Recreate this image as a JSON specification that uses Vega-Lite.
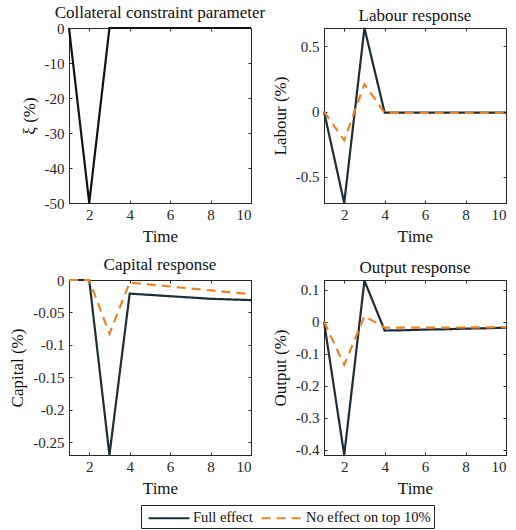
{
  "$schema": "https://vega.github.io/schema/vega-lite/v6.json",
  "padding": {"left": 8, "top": 3, "right": 6, "bottom": 2},
  "datasets": {
    "irf": [
      {"panel": "xi", "t": 1, "value": 0, "series": "Full effect"},
      {"panel": "xi", "t": 2, "value": -50, "series": "Full effect"},
      {"panel": "xi", "t": 3, "value": 0, "series": "Full effect"},
      {"panel": "xi", "t": 4, "value": 0, "series": "Full effect"},
      {"panel": "xi", "t": 5, "value": 0, "series": "Full effect"},
      {"panel": "xi", "t": 6, "value": 0, "series": "Full effect"},
      {"panel": "xi", "t": 7, "value": 0, "series": "Full effect"},
      {"panel": "xi", "t": 8, "value": 0, "series": "Full effect"},
      {"panel": "xi", "t": 9, "value": 0, "series": "Full effect"},
      {"panel": "xi", "t": 10, "value": 0, "series": "Full effect"},

      {"panel": "labour", "t": 1, "value": 0, "series": "Full effect"},
      {"panel": "labour", "t": 2, "value": -0.70, "series": "Full effect"},
      {"panel": "labour", "t": 3, "value": 0.64, "series": "Full effect"},
      {"panel": "labour", "t": 4, "value": -0.008, "series": "Full effect"},
      {"panel": "labour", "t": 5, "value": -0.008, "series": "Full effect"},
      {"panel": "labour", "t": 6, "value": -0.008, "series": "Full effect"},
      {"panel": "labour", "t": 7, "value": -0.008, "series": "Full effect"},
      {"panel": "labour", "t": 8, "value": -0.008, "series": "Full effect"},
      {"panel": "labour", "t": 9, "value": -0.008, "series": "Full effect"},
      {"panel": "labour", "t": 10, "value": -0.008, "series": "Full effect"},
      {"panel": "labour", "t": 1, "value": 0, "series": "No effect on top 10%"},
      {"panel": "labour", "t": 2, "value": -0.22, "series": "No effect on top 10%"},
      {"panel": "labour", "t": 3, "value": 0.21, "series": "No effect on top 10%"},
      {"panel": "labour", "t": 4, "value": -0.01, "series": "No effect on top 10%"},
      {"panel": "labour", "t": 5, "value": -0.01, "series": "No effect on top 10%"},
      {"panel": "labour", "t": 6, "value": -0.01, "series": "No effect on top 10%"},
      {"panel": "labour", "t": 7, "value": -0.01, "series": "No effect on top 10%"},
      {"panel": "labour", "t": 8, "value": -0.01, "series": "No effect on top 10%"},
      {"panel": "labour", "t": 9, "value": -0.01, "series": "No effect on top 10%"},
      {"panel": "labour", "t": 10, "value": -0.01, "series": "No effect on top 10%"},

      {"panel": "capital", "t": 1, "value": 0, "series": "Full effect"},
      {"panel": "capital", "t": 2, "value": 0, "series": "Full effect"},
      {"panel": "capital", "t": 3, "value": -0.27, "series": "Full effect"},
      {"panel": "capital", "t": 4, "value": -0.021, "series": "Full effect"},
      {"panel": "capital", "t": 5, "value": -0.023, "series": "Full effect"},
      {"panel": "capital", "t": 6, "value": -0.025, "series": "Full effect"},
      {"panel": "capital", "t": 7, "value": -0.027, "series": "Full effect"},
      {"panel": "capital", "t": 8, "value": -0.029, "series": "Full effect"},
      {"panel": "capital", "t": 9, "value": -0.030, "series": "Full effect"},
      {"panel": "capital", "t": 10, "value": -0.031, "series": "Full effect"},
      {"panel": "capital", "t": 1, "value": 0, "series": "No effect on top 10%"},
      {"panel": "capital", "t": 2, "value": 0, "series": "No effect on top 10%"},
      {"panel": "capital", "t": 3, "value": -0.083, "series": "No effect on top 10%"},
      {"panel": "capital", "t": 4, "value": -0.004, "series": "No effect on top 10%"},
      {"panel": "capital", "t": 5, "value": -0.007, "series": "No effect on top 10%"},
      {"panel": "capital", "t": 6, "value": -0.010, "series": "No effect on top 10%"},
      {"panel": "capital", "t": 7, "value": -0.013, "series": "No effect on top 10%"},
      {"panel": "capital", "t": 8, "value": -0.016, "series": "No effect on top 10%"},
      {"panel": "capital", "t": 9, "value": -0.019, "series": "No effect on top 10%"},
      {"panel": "capital", "t": 10, "value": -0.022, "series": "No effect on top 10%"},

      {"panel": "output", "t": 1, "value": 0, "series": "Full effect"},
      {"panel": "output", "t": 2, "value": -0.417, "series": "Full effect"},
      {"panel": "output", "t": 3, "value": 0.128, "series": "Full effect"},
      {"panel": "output", "t": 4, "value": -0.028, "series": "Full effect"},
      {"panel": "output", "t": 5, "value": -0.027, "series": "Full effect"},
      {"panel": "output", "t": 6, "value": -0.025, "series": "Full effect"},
      {"panel": "output", "t": 7, "value": -0.024, "series": "Full effect"},
      {"panel": "output", "t": 8, "value": -0.022, "series": "Full effect"},
      {"panel": "output", "t": 9, "value": -0.021, "series": "Full effect"},
      {"panel": "output", "t": 10, "value": -0.019, "series": "Full effect"},
      {"panel": "output", "t": 1, "value": 0, "series": "No effect on top 10%"},
      {"panel": "output", "t": 2, "value": -0.135, "series": "No effect on top 10%"},
      {"panel": "output", "t": 3, "value": 0.017, "series": "No effect on top 10%"},
      {"panel": "output", "t": 4, "value": -0.019, "series": "No effect on top 10%"},
      {"panel": "output", "t": 5, "value": -0.019, "series": "No effect on top 10%"},
      {"panel": "output", "t": 6, "value": -0.019, "series": "No effect on top 10%"},
      {"panel": "output", "t": 7, "value": -0.019, "series": "No effect on top 10%"},
      {"panel": "output", "t": 8, "value": -0.018, "series": "No effect on top 10%"},
      {"panel": "output", "t": 9, "value": -0.018, "series": "No effect on top 10%"},
      {"panel": "output", "t": 10, "value": -0.017, "series": "No effect on top 10%"}
    ]
  },
  "data": {"name": "irf"},
  "columns": 2,
  "spacing": {"row": 77, "column": 73},
  "bounds": "flush",
  "concat": [
    {
      "width": 182, "height": 175,
      "title": "Collateral constraint parameter",
      "transform": [{"filter": "datum.panel === 'xi'"}],
      "layer": [
        {
          "mark": {"type": "line", "strokeWidth": 2.2},
          "encoding": {
            "x": {"field": "t", "type": "quantitative", "scale": {"domain": [1, 10], "nice": false}, "axis": {"title": "Time", "values": [2, 4, 6, 8, 10]}},
            "y": {"field": "value", "type": "quantitative", "scale": {"domain": [-50, 0], "nice": false, "zero": false}, "axis": {"title": "ξ (%)", "values": [-50, -40, -30, -20, -10, 0]}},
            "color": {"field": "series", "type": "nominal", "scale": {"domain": ["Full effect", "No effect on top 10%"], "range": ["#111111", "#ec8425"]}, "legend": null},
            "strokeDash": {"field": "series", "type": "nominal", "scale": {"domain": ["Full effect", "No effect on top 10%"], "range": [[1, 0], [9, 6]]}, "legend": null}
          }
        },
        {
          "mark": {"type": "line", "strokeOpacity": 0},
          "encoding": {
            "x": {"field": "t", "type": "quantitative", "axis": {"orient": "top", "title": null, "labels": false, "values": [2, 4, 6, 8, 10], "domain": false}},
            "y": {"field": "value", "type": "quantitative", "axis": {"orient": "right", "title": null, "labels": false, "values": [-50, -40, -30, -20, -10, 0], "domain": false}}
          }
        }
      ],
      "resolve": {"axis": {"x": "independent", "y": "independent"}}
    },
    {
      "width": 182, "height": 175,
      "title": "Labour response",
      "transform": [{"filter": "datum.panel === 'labour'"}],
      "layer": [
        {
          "mark": {"type": "line", "strokeWidth": 2.2},
          "encoding": {
            "x": {"field": "t", "type": "quantitative", "scale": {"domain": [1, 10], "nice": false}, "axis": {"title": "Time", "values": [2, 4, 6, 8, 10]}},
            "y": {"field": "value", "type": "quantitative", "scale": {"domain": [-0.7, 0.64], "nice": false, "zero": false}, "axis": {"title": "Labour (%)", "values": [-0.5, 0, 0.5]}},
            "color": {"field": "series", "type": "nominal", "scale": {"domain": ["Full effect", "No effect on top 10%"], "range": ["#1d2d33", "#ec8425"]}, "title": null, "legend": null},
            "strokeDash": {"field": "series", "type": "nominal", "scale": {"domain": ["Full effect", "No effect on top 10%"], "range": [[1, 0], [9, 6]]}, "title": null, "legend": null}
          }
        },
        {
          "mark": {"type": "line", "strokeOpacity": 0},
          "encoding": {
            "x": {"field": "t", "type": "quantitative", "axis": {"orient": "top", "title": null, "labels": false, "values": [2, 4, 6, 8, 10], "domain": false}},
            "y": {"field": "value", "type": "quantitative", "axis": {"orient": "right", "title": null, "labels": false, "values": [-0.5, 0, 0.5], "domain": false}}
          }
        }
      ],
      "resolve": {"axis": {"x": "independent", "y": "independent"}}
    },
    {
      "width": 182, "height": 175,
      "title": "Capital response",
      "transform": [{"filter": "datum.panel === 'capital'"}],
      "layer": [
        {
          "mark": {"type": "line", "strokeWidth": 2.2},
          "encoding": {
            "x": {"field": "t", "type": "quantitative", "scale": {"domain": [1, 10], "nice": false}, "axis": {"title": "Time", "values": [2, 4, 6, 8, 10]}},
            "y": {"field": "value", "type": "quantitative", "scale": {"domain": [-0.27, 0], "nice": false, "zero": false}, "axis": {"title": "Capital (%)", "values": [-0.25, -0.2, -0.15, -0.1, -0.05, 0]}},
            "color": {"field": "series", "type": "nominal", "scale": {"domain": ["Full effect", "No effect on top 10%"], "range": ["#1d2d33", "#ec8425"]}, "title": null, "legend": null},
            "strokeDash": {"field": "series", "type": "nominal", "scale": {"domain": ["Full effect", "No effect on top 10%"], "range": [[1, 0], [9, 6]]}, "title": null, "legend": null}
          }
        },
        {
          "mark": {"type": "line", "strokeOpacity": 0},
          "encoding": {
            "x": {"field": "t", "type": "quantitative", "axis": {"orient": "top", "title": null, "labels": false, "values": [2, 4, 6, 8, 10], "domain": false}},
            "y": {"field": "value", "type": "quantitative", "axis": {"orient": "right", "title": null, "labels": false, "values": [-0.25, -0.2, -0.15, -0.1, -0.05, 0], "domain": false}}
          }
        }
      ],
      "resolve": {"axis": {"x": "independent", "y": "independent"}}
    },
    {
      "width": 182, "height": 175,
      "title": "Output response",
      "transform": [{"filter": "datum.panel === 'output'"}],
      "layer": [
        {
          "mark": {"type": "line", "strokeWidth": 2.2},
          "encoding": {
            "x": {"field": "t", "type": "quantitative", "scale": {"domain": [1, 10], "nice": false}, "axis": {"title": "Time", "values": [2, 4, 6, 8, 10]}},
            "y": {"field": "value", "type": "quantitative", "scale": {"domain": [-0.417, 0.13], "nice": false, "zero": false}, "axis": {"title": "Output (%)", "values": [-0.4, -0.3, -0.2, -0.1, 0, 0.1]}},
            "color": {"field": "series", "type": "nominal", "scale": {"domain": ["Full effect", "No effect on top 10%"], "range": ["#1d2d33", "#ec8425"]}, "title": null,
              "legend": {"orient": "none", "legendX": -183, "legendY": 225, "direction": "horizontal", "symbolType": "M-2.4,0H2.4", "symbolSize": 289, "symbolOffset": 15, "labelOffset": 14, "symbolStrokeWidth": 2.2, "strokeColor": "#262626", "padding": 3, "labelFont": "Liberation Serif", "labelFontSize": 14.5, "labelColor": "#111111", "columnPadding": 4, "labelLimit": 300}},
            "strokeDash": {"field": "series", "type": "nominal", "scale": {"domain": ["Full effect", "No effect on top 10%"], "range": [[1, 0], [9, 6]]}, "title": null,
              "legend": {"orient": "none", "legendX": -183, "legendY": 225, "direction": "horizontal", "symbolType": "M-2.4,0H2.4", "symbolSize": 289, "symbolOffset": 15, "labelOffset": 14, "symbolStrokeWidth": 2.2, "strokeColor": "#262626", "padding": 3, "labelFont": "Liberation Serif", "labelFontSize": 14.5, "labelColor": "#111111", "columnPadding": 4, "labelLimit": 300}}
          }
        },
        {
          "mark": {"type": "line", "strokeOpacity": 0},
          "encoding": {
            "x": {"field": "t", "type": "quantitative", "axis": {"orient": "top", "title": null, "labels": false, "values": [2, 4, 6, 8, 10], "domain": false}},
            "y": {"field": "value", "type": "quantitative", "axis": {"orient": "right", "title": null, "labels": false, "values": [-0.4, -0.3, -0.2, -0.1, 0, 0.1], "domain": false}}
          }
        }
      ],
      "resolve": {"axis": {"x": "independent", "y": "independent"}}
    }
  ],
  "resolve": {"scale": {"x": "independent", "y": "independent", "color": "independent", "strokeDash": "independent"}},
  "config": {
    "font": "Liberation Serif",
    "view": {"stroke": "#262626", "strokeWidth": 1},
    "title": {"font": "Liberation Serif", "fontSize": 17, "fontWeight": "normal", "color": "#111111", "offset": -1},
    "axis": {
      "grid": false,
      "labelFont": "Liberation Serif", "labelFontSize": 15, "labelColor": "#262626",
      "titleFont": "Liberation Serif", "titleFontSize": 17, "titleFontWeight": "normal", "titleColor": "#111111",
      "domainColor": "#262626", "tickColor": "#262626", "tickSize": -3, "labelPadding": 8, "titlePadding": 6,
      "format": "~r",
      "labelExpr": "replace(datum.label, '−', '-')"
    },
    "axisX": {"labelPadding": 7}
  }
}
